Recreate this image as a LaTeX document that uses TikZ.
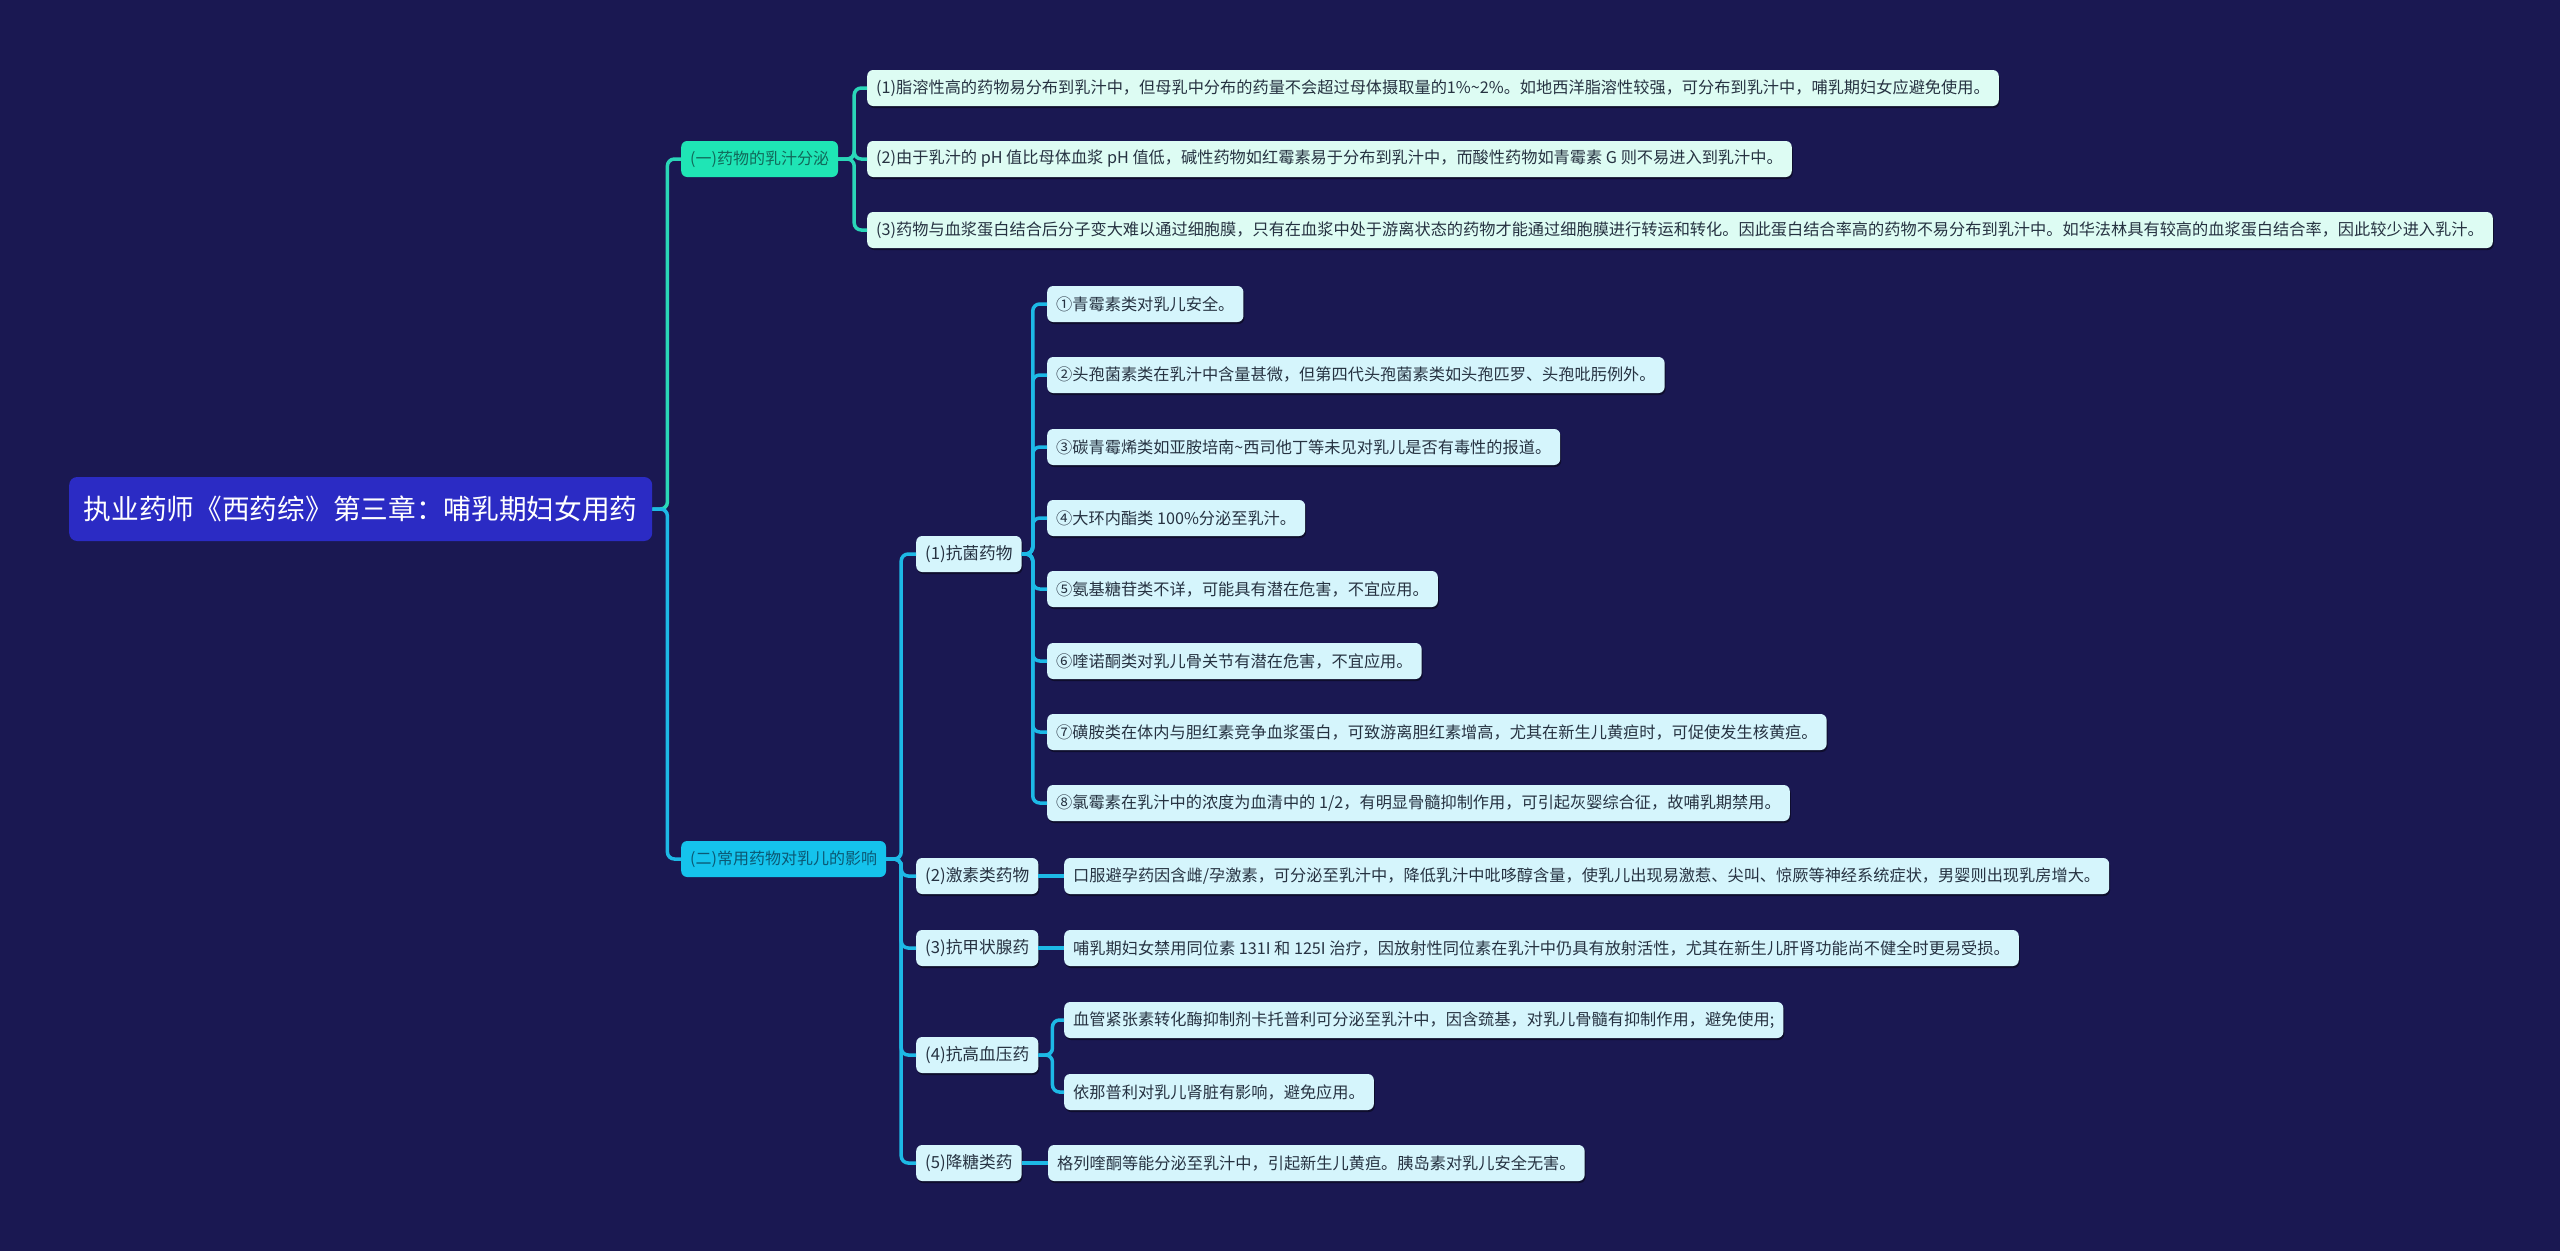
\documentclass[tikz,border=0pt]{standalone}
\usepackage{fontspec}
\setmainfont{Noto Sans CJK SC}
\usetikzlibrary{positioning, shadows}
\definecolor{bgNavy}{HTML}{1A1852}
\definecolor{rootBlue}{HTML}{2B2BC4}
\definecolor{mintMain}{HTML}{1FE5B5}
\definecolor{mintLine}{HTML}{2AD6B8}
\definecolor{mintLeaf}{HTML}{DDFCF3}
\definecolor{mintInk}{HTML}{11695A}
\definecolor{cyanMain}{HTML}{15C3EC}
\definecolor{cyanLine}{HTML}{1DB9E6}
\definecolor{cyanLeaf}{HTML}{D5F5FC}
\definecolor{cyanInk}{HTML}{0B5874}
\definecolor{inkDark}{HTML}{263241}

\begin{document}
\begin{tikzpicture}[
    x=1pt, y=1pt,
    root/.style={rectangle, fill=rootBlue, rounded corners=8pt, anchor=west,
                 minimum width=583pt, minimum height=64pt, text=white,
                 font=\fontsize{27.7}{32}\selectfont},
    branch/.style={rectangle, rounded corners=6pt, anchor=west, minimum height=36pt,
                   inner xsep=9pt, inner ysep=0pt, font=\fontsize{16}{19}\selectfont},
    leaf/.style={rectangle, rounded corners=6pt, anchor=west, minimum height=36pt,
                 inner xsep=9pt, inner ysep=0pt, text=inkDark,
                 font=\fontsize{16.2}{20}\selectfont,
                 drop shadow={shadow xshift=1pt, shadow yshift=-2pt, fill=black, opacity=0.45}},
    mintleaf/.style={leaf, fill=mintLeaf},
    cyanleaf/.style={leaf, fill=cyanLeaf},
    group/.style={cyanleaf, font=\fontsize{16.7}{20}\selectfont},
    mintlink/.style={line width=3.5pt, mintLine, rounded corners=7pt},
    cyanlink/.style={line width=3.5pt, cyanLine, rounded corners=7pt}
  ]
    \fill[bgNavy] (0,0) rectangle (2560,-1251);
    \useasboundingbox (0,0) rectangle (2560,-1251);

    % root and main branches
    \node[root] (root) at (69,-509) {执业药师《西药综》第三章：哺乳期妇女用药};
    \node[branch, fill=mintMain, text=mintInk] (b1) at (681,-159) {(一)药物的乳汁分泌};
    \node[branch, fill=cyanMain, text=cyanInk] (b2) at (681,-859) {(二)常用药物对乳儿的影响};

    % (一) leaves
    \node[mintleaf] (p1) at (867,-88) {(1)脂溶性高的药物易分布到乳汁中，但母乳中分布的药量不会超过母体摄取量的1\%\~{}2\%。如地西洋脂溶性较强，可分布到乳汁中，哺乳期妇女应避免使用。};
    \node[mintleaf] (p2) at (867,-159) {(2)由于乳汁的 pH 值比母体血浆 pH 值低，碱性药物如红霉素易于分布到乳汁中，而酸性药物如青霉素 G 则不易进入到乳汁中。};
    \node[mintleaf] (p3) at (867,-230) {(3)药物与血浆蛋白结合后分子变大难以通过细胞膜，只有在血浆中处于游离状态的药物才能通过细胞膜进行转运和转化。因此蛋白结合率高的药物不易分布到乳汁中。如华法林具有较高的血浆蛋白结合率，因此较少进入乳汁。};

    % (二) groups
    \node[group] (m1) at (916,-554) {(1)抗菌药物};
    \node[group] (m2) at (916,-876) {(2)激素类药物};
    \node[group] (m3) at (916,-948) {(3)抗甲状腺药};
    \node[group] (m4) at (916,-1055) {(4)抗高血压药};
    \node[group] (m5) at (916,-1163) {(5)降糖类药};

    % antibacterial leaves
    \node[cyanleaf] (a1) at (1047,-304) {①青霉素类对乳儿安全。};
    \node[cyanleaf] (a2) at (1047,-375) {②头孢菌素类在乳汁中含量甚微，但第四代头孢菌素类如头孢匹罗、头孢吡肟例外。};
    \node[cyanleaf] (a3) at (1047,-447) {③碳青霉烯类如亚胺培南\~{}西司他丁等未见对乳儿是否有毒性的报道。};
    \node[cyanleaf] (a4) at (1047,-518) {④大环内酯类 100\%分泌至乳汁。};
    \node[cyanleaf] (a5) at (1047,-589) {⑤氨基糖苷类不详，可能具有潜在危害，不宜应用。};
    \node[cyanleaf] (a6) at (1047,-661) {⑥喹诺酮类对乳儿骨关节有潜在危害，不宜应用。};
    \node[cyanleaf] (a7) at (1047,-732) {⑦磺胺类在体内与胆红素竞争血浆蛋白，可致游离胆红素增高，尤其在新生儿黄疸时，可促使发生核黄疸。};
    \node[cyanleaf] (a8) at (1047,-803) {⑧氯霉素在乳汁中的浓度为血清中的 1/2，有明显骨髓抑制作用，可引起灰婴综合征，故哺乳期禁用。};

    % other leaves
    \node[cyanleaf] (l2) at (1064,-876) {口服避孕药因含雌/孕激素，可分泌至乳汁中，降低乳汁中吡哆醇含量，使乳儿出现易激惹、尖叫、惊厥等神经系统症状，男婴则出现乳房增大。};
    \node[cyanleaf] (l3) at (1064,-948) {哺乳期妇女禁用同位素 131I 和 125I 治疗，因放射性同位素在乳汁中仍具有放射活性，尤其在新生儿肝肾功能尚不健全时更易受损。};
    \node[cyanleaf] (l41) at (1064,-1020) {血管紧张素转化酶抑制剂卡托普利可分泌至乳汁中，因含巯基，对乳儿骨髓有抑制作用，避免使用;};
    \node[cyanleaf] (l42) at (1064,-1092) {依那普利对乳儿肾脏有影响，避免应用。};
    \node[cyanleaf] (l5) at (1048,-1163) {格列喹酮等能分泌至乳汁中，引起新生儿黄疸。胰岛素对乳儿安全无害。};

    % connectors
    \draw[mintlink] (root.east) -- ++(15,0) |- (b1.west);
    \draw[cyanlink] (root.east) -- ++(15,0) |- (b2.west);
    \foreach \n in {p1,p2,p3}
      \draw[mintlink] (b1.east) -- ++(16,0) |- (\n.west);
    \foreach \n in {m1,m2,m3,m4,m5}
      \draw[cyanlink] (b2.east) -- ++(15,0) |- (\n.west);
    \foreach \n in {a1,a2,a3,a4,a5,a6,a7,a8}
      \draw[cyanlink] (m1.east) -- ++(11,0) |- (\n.west);
    \draw[cyanlink] (m2.east) -- (l2.west);
    \draw[cyanlink] (m3.east) -- (l3.west);
    \foreach \n in {l41,l42}
      \draw[cyanlink] (m4.east) -- ++(14,0) |- (\n.west);
    \draw[cyanlink] (m5.east) -- (l5.west);
  \end{tikzpicture}
\end{document}
